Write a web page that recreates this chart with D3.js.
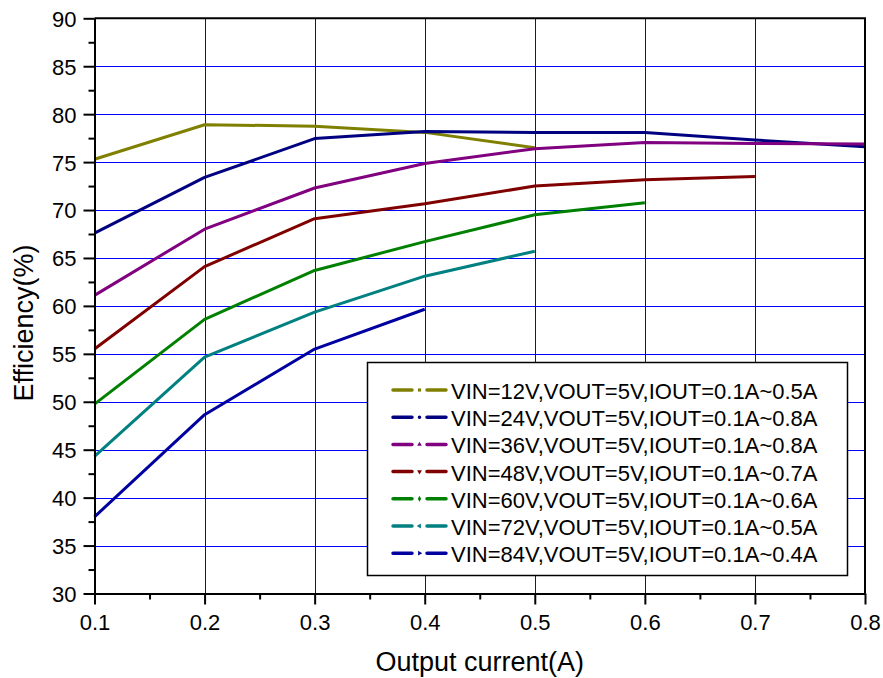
<!DOCTYPE html>
<html>
<head>
<meta charset="utf-8">
<script src="https://cdnjs.cloudflare.com/ajax/libs/d3/7.8.5/d3.min.js"></script>
<style>
  body { margin: 0; background: #fff; }
  svg { display: block; }
</style>
</head>
<body>
<svg id="chart"></svg>
<script>
// output current steps (A)
const currents = [0.1, 0.2, 0.3, 0.4, 0.5, 0.6, 0.7, 0.8]
// efficiency (%) per input voltage
const eff_12v = [75.3, 78.9, 78.75, 78.1, 76.5]
const eff_24v = [67.6, 73.4, 77.45, 78.2, 78.1, 78.1, 77.3, 76.6]
const eff_36v = [61.1, 68.0, 72.3, 74.85, 76.4, 77.05, 76.95, 76.9]
const eff_48v = [55.5, 64.1, 69.1, 70.65, 72.5, 73.15, 73.5]
const eff_60v = [49.75, 58.6, 63.7, 66.7, 69.5, 70.75]
const eff_72v = [44.3, 54.65, 59.35, 63.1, 65.7]
const eff_84v = [38.0, 48.65, 55.5, 59.65]
const series_labels = [
    'VIN=12V,VOUT=5V,IOUT=0.1A~0.5A',
    'VIN=24V,VOUT=5V,IOUT=0.1A~0.8A',
    'VIN=36V,VOUT=5V,IOUT=0.1A~0.8A',
    'VIN=48V,VOUT=5V,IOUT=0.1A~0.7A',
    'VIN=60V,VOUT=5V,IOUT=0.1A~0.6A',
    'VIN=72V,VOUT=5V,IOUT=0.1A~0.5A',
    'VIN=84V,VOUT=5V,IOUT=0.1A~0.4A',
]
const series_colors = ['#808000', '#000080', '#800080', '#800000', '#008000', '#008080', '#0000a0']
const x_ticks = [0.1, 0.2, 0.3, 0.4, 0.5, 0.6, 0.7, 0.8]
const y_ticks = [30, 35, 40, 45, 50, 55, 60, 65, 70, 75, 80, 85, 90]

const series = [eff_12v, eff_24v, eff_36v, eff_48v, eff_60v, eff_72v, eff_84v]
    .map((vals, i) => ({label: series_labels[i], color: series_colors[i],
                        points: vals.map((v, j) => [currents[j], v])}))

const W = 883, H = 678
// plot frame in pixels
const plot_l = 94.5, plot_r = 865, plot_t = 18.3, plot_b = 593.5
const font = '"Liberation Sans", Arial, sans-serif'

const svg = d3.select('#chart')
              .attr('width', W)
              .attr('height', H)
              .attr('font-family', font)

const x = d3.scaleLinear([0.1, 0.8], [plot_l, plot_r])
const y = d3.scaleLinear([30, 90], [plot_b, plot_t])

// blue grid, only the inner lines (the frame covers the outer ones)
svg.append('g')
   .attr('transform', `translate(0,${plot_b})`)
   .call(d3.axisBottom(x).tickValues(x_ticks.slice(1, -1)).tickSize(-(plot_b - plot_t)).tickFormat(''))
   .call(g => g.select('.domain').remove())
   .selectAll('line').attr('stroke', '#0000ff').attr('stroke-width', 1).attr('shape-rendering', 'crispEdges')
svg.append('g')
   .attr('transform', `translate(${plot_l},0)`)
   .call(d3.axisLeft(y).tickValues(y_ticks.slice(1, -1)).tickSize(-(plot_r - plot_l)).tickFormat(''))
   .call(g => g.select('.domain').remove())
   .selectAll('line').attr('stroke', '#0000ff').attr('stroke-width', 1).attr('shape-rendering', 'crispEdges')

// efficiency curves
const line = d3.line().x(d => x(d[0])).y(d => y(d[1]))
svg.append('g')
   .selectAll('path')
   .data(series)
   .join('path')
     .attr('fill', 'none')
     .attr('stroke', d => d.color)
     .attr('stroke-width', 3)
     .attr('stroke-linejoin', 'round')
     .attr('d', d => line(d.points))

// frame: top and right borders
svg.append('path')
   .attr('d', `M${plot_l},${plot_t}H${plot_r}V${plot_b}`)
   .attr('fill', 'none')
   .attr('stroke', '#000')
   .attr('stroke-width', 2)

// x axis, major + minor ticks
const x_axis = svg.append('g').attr('transform', `translate(0,${plot_b})`)
x_axis.call(d3.axisBottom(x).tickValues(x_ticks).tickSize(11).tickSizeOuter(0).tickFormat(d3.format('.1f')))
x_axis.append('g').call(d3.axisBottom(x).tickValues(d3.range(0.15, 0.8, 0.1)).tickSize(6).tickSizeOuter(0).tickFormat(''))
x_axis.selectAll('.domain').attr('stroke-width', 2)
x_axis.selectAll('line').attr('stroke-width', 2)
x_axis.selectAll('text')
      .attr('font-size', 22)
      .attr('font-family', font)
      .attr('fill', '#000')
      .attr('y', 36)
      .attr('dy', 0)

// y axis, major + minor ticks
const y_axis = svg.append('g').attr('transform', `translate(${plot_l},0)`)
y_axis.call(d3.axisLeft(y).tickValues(y_ticks).tickSize(11).tickSizeOuter(0))
y_axis.append('g').call(d3.axisLeft(y).tickValues(d3.range(32.5, 90, 5)).tickSize(6).tickSizeOuter(0).tickFormat(''))
y_axis.selectAll('.domain').attr('stroke-width', 2)
y_axis.selectAll('line').attr('stroke-width', 2)
y_axis.selectAll('text')
      .attr('font-size', 22)
      .attr('font-family', font)
      .attr('fill', '#000')
      .attr('x', -18)
      .attr('dy', '0.36em')

// axis titles
svg.append('text')
   .attr('x', (plot_l + plot_r) / 2)
   .attr('y', 671)
   .attr('text-anchor', 'middle')
   .attr('font-size', 27)
   .text('Output current(A)')
svg.append('text')
   .attr('transform', 'translate(33,323) rotate(-90)')
   .attr('text-anchor', 'middle')
   .attr('font-size', 27)
   .text('Efficiency(%)')

// legend box
const legend = svg.append('g')
legend.append('rect')
      .attr('x', 367.5).attr('y', 362.5)
      .attr('width', 480).attr('height', 213)
      .attr('fill', '#fff')
      .attr('stroke', '#000')
      .attr('stroke-width', 1.5)

const symbols = [
    [d3.symbolSquare, 0], [d3.symbolCircle, 0], [d3.symbolTriangle, 0], [d3.symbolTriangle, 180],
    [d3.symbolDiamond, 0], [d3.symbolTriangle, -90], [d3.symbolTriangle, 90],
]
const rows = legend.selectAll('g.item')
    .data(series)
    .join('g')
      .attr('class', 'item')
      .attr('transform', (d, i) => `translate(0,${399 + i * 27.2})`)
rows.append('path')
    .attr('d', 'M393,-9H412M427,-9H446')
    .attr('stroke', d => d.color)
    .attr('stroke-width', 3.5)
    .attr('stroke-linecap', 'round')
rows.append('path')
    .attr('d', (d, i) => d3.symbol(symbols[i][0], 10)())
    .attr('transform', (d, i) => `translate(419.5,-9) rotate(${symbols[i][1]})`)
    .attr('fill', d => d.color)
rows.append('text')
    .attr('x', 451)
    .attr('y', 0)
    .attr('font-size', 22)
    .text(d => d.label)
</script>
</body>
</html>
